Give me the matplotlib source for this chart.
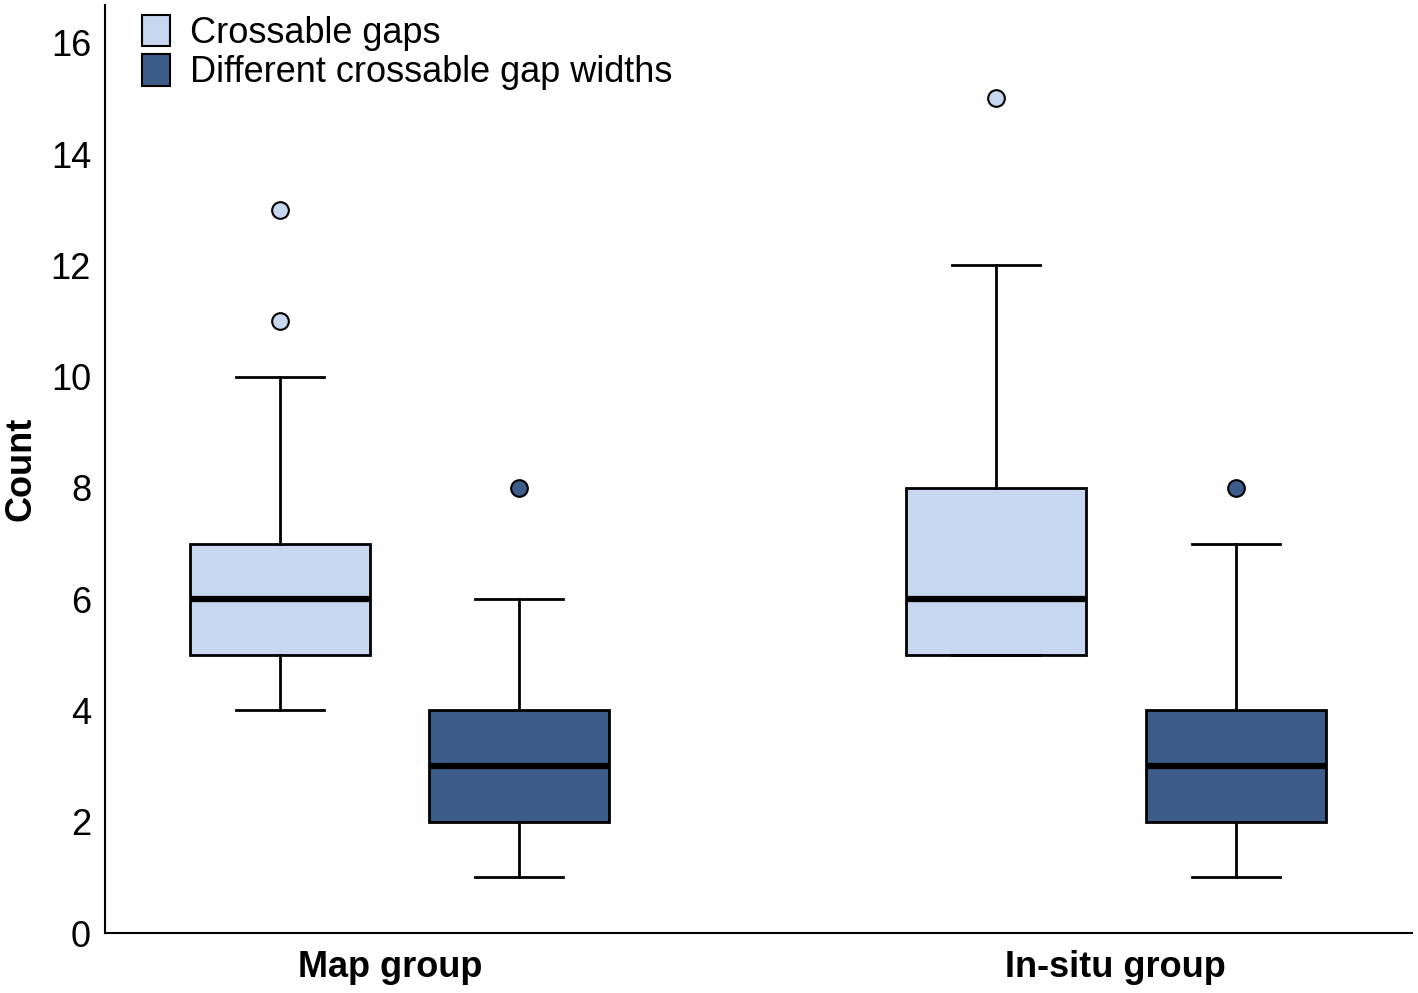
import matplotlib
matplotlib.use("Agg")
import matplotlib.pyplot as plt
from matplotlib.patches import Patch

plt.rcParams['font.family'] = ['Liberation Sans', 'DejaVu Sans']

groups = ["Map group", "In-situ group"]
series = ["Crossable gaps", "Different crossable gap widths"]
colors = ["#C7D7EF", "#3C5D8A"]

# stats per series, per group
q1 = {"Crossable gaps": [5, 5], "Different crossable gap widths": [2, 2]}
med = {"Crossable gaps": [6, 6], "Different crossable gap widths": [3, 3]}
q3 = {"Crossable gaps": [7, 8], "Different crossable gap widths": [4, 4]}
whislo = {"Crossable gaps": [4, 5], "Different crossable gap widths": [1, 1]}
whishi = {"Crossable gaps": [10, 12], "Different crossable gap widths": [6, 7]}
fliers = {"Crossable gaps": [[11, 13], [15]], "Different crossable gap widths": [[8], [8]]}

fig = plt.figure(figsize=(14.18, 9.93), dpi=100)
ax = fig.add_axes([0.074, 0.0604, 0.9218, 0.9346])

offsets = [-0.166, 0.168]
for si, s in enumerate(series):
    stats = []
    for gi in range(len(groups)):
        stats.append(dict(q1=q1[s][gi], med=med[s][gi], q3=q3[s][gi],
                          whislo=whislo[s][gi], whishi=whishi[s][gi],
                          fliers=fliers[s][gi]))
    pos = [gi + 1 + offsets[si] for gi in range(len(groups))]
    ax.bxp(stats, positions=pos, widths=0.251, patch_artist=True,
           showfliers=True,
           boxprops=dict(facecolor=colors[si], edgecolor='black', linewidth=2),
           medianprops=dict(color='black', linewidth=4.5),
           whiskerprops=dict(color='black', linewidth=2),
           capprops=dict(color='black', linewidth=2),
           capwidths=0.123,
           flierprops=dict(marker='o', markerfacecolor=colors[si],
                           markeredgecolor='black', markersize=12,
                           markeredgewidth=1.5))

ax.set_xlim(0.59, 2.414)
ax.set_ylim(0, 16.68)
ax.set_yticks(range(0, 17, 2))
ax.set_xticks([0.988, 2.0])
ax.set_xticklabels(groups, fontsize=26, fontweight='bold')
ax.tick_params(axis='y', labelsize=26, length=0, pad=10)
ax.tick_params(axis='x', length=0, pad=12)
ax.set_ylabel("Count", fontsize=26, fontweight='bold')
ax.yaxis.set_label_coords(-0.051, 0.5)
for sp in ['top', 'right']:
    ax.spines[sp].set_visible(False)
for sp in ['left', 'bottom']:
    ax.spines[sp].set_linewidth(1.5)

handles = [Patch(facecolor=c, edgecolor='black', linewidth=1.5) for c in colors]
ax.legend(handles, series, loc='upper left', bbox_to_anchor=(0.017, 1.005),
          frameon=False, fontsize=26, handlelength=0.8, handleheight=0.95,
          handletextpad=0.55, labelspacing=0.1, borderaxespad=0)

fig.savefig("out.png", dpi=100)
